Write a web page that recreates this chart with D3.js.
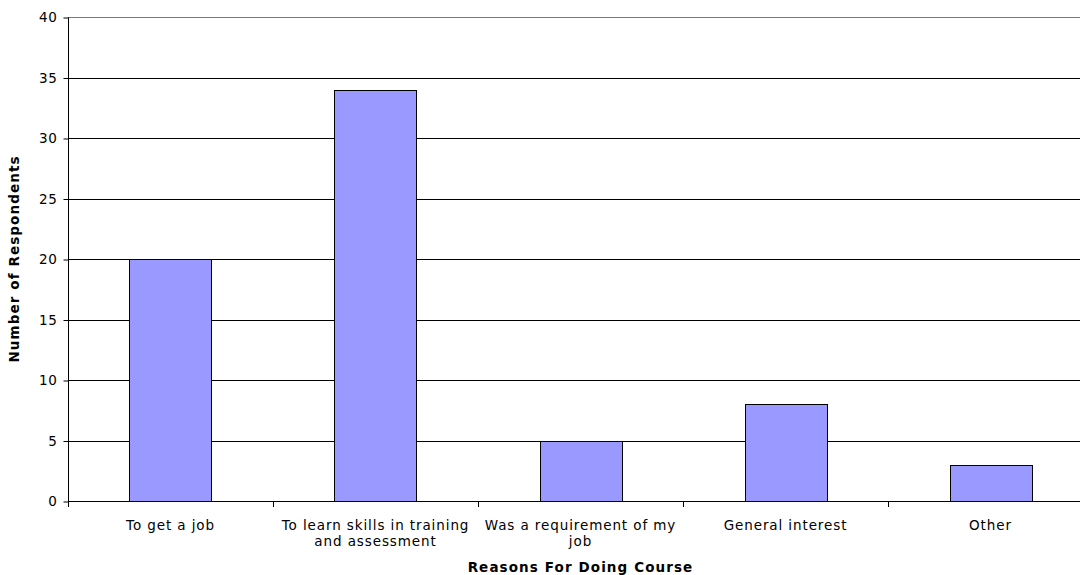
<!DOCTYPE html>
<html>
<head>
<meta charset="utf-8">
<script src="https://cdn.jsdelivr.net/npm/d3@7"></script>
<style>
  html, body { margin: 0; padding: 0; background: #fff; }
  svg { display: block; }
  text { font-family: "DejaVu Sans", Verdana, sans-serif; fill: #000; }
</style>
</head>
<body>
<svg id="chart" width="1080" height="575"></svg>
<script>
// Survey results: reasons respondents gave for doing the course
const categories = [
  ["To get a job"],
  ["To learn skills in training", "and assessment"],
  ["Was a requirement of my", "job"],
  ["General interest"],
  ["Other"]
];
const respondents = [20, 34, 5, 8, 3];
const yTicks = [0, 5, 10, 15, 20, 25, 30, 35, 40];

const svg = d3.select("#chart");
const margin = { left: 68, top: 17, bottom: 501, right: 1093 };

const keys = categories.map((c, i) => i);
const x = d3.scaleBand().domain(keys).range([margin.left, margin.right]).paddingInner(0.6).paddingOuter(0.3);
const xTick = d3.scaleBand().domain(keys).range([margin.left, margin.right]);
const y = d3.scaleLinear().domain([0, 40]).range([margin.bottom, margin.top]);

// horizontal gridlines
svg.append("g").selectAll("line").data(yTicks.filter(d => d > 0)).join("line")
  .attr("x1", margin.left).attr("x2", margin.right)
  .attr("y1", d => Math.round(y(d)) + 0.5).attr("y2", d => Math.round(y(d)) + 0.5)
  .attr("stroke", d => d === 40 ? "#777" : "#000").attr("stroke-width", 1);

// bars
svg.append("g").selectAll("rect").data(respondents).join("rect")
  .attr("x", (d, i) => Math.round(x(i)) + 0.5)
  .attr("y", d => Math.round(y(d)) + 0.5)
  .attr("width", Math.round(x.bandwidth()))
  .attr("height", d => Math.round(y(0)) - Math.round(y(d)))
  .attr("fill", "#9999FF").attr("stroke", "#000").attr("stroke-width", 1);

// y axis
const yAxis = d3.axisLeft(y).tickValues(yTicks).tickSize(5).tickPadding(6);
const gy = svg.append("g").attr("transform", `translate(${margin.left + 0.5},0.5)`).call(yAxis);
gy.select(".domain").attr("stroke", "#000").attr("d", `M-0,${margin.bottom + 5}V${margin.top}`);
gy.selectAll(".tick line").attr("stroke", "#000");
gy.selectAll(".tick text").attr("font-size", 13.5).attr("font-family", "DejaVu Sans, sans-serif")
  .attr("fill", "#000").attr("letter-spacing", 0.6);

// x axis baseline and category separators
const gx = svg.append("g");
gx.append("line").attr("x1", margin.left).attr("x2", margin.right)
  .attr("y1", Math.round(y(0)) + 0.5).attr("y2", Math.round(y(0)) + 0.5).attr("stroke", "#000");
gx.selectAll("line.sep").data(keys.concat([keys.length])).join("line").attr("class", "sep")
  .attr("x1", i => Math.round(i < keys.length ? xTick(i) : margin.right) + 0.5)
  .attr("x2", i => Math.round(i < keys.length ? xTick(i) : margin.right) + 0.5)
  .attr("y1", Math.round(y(0)) + 0.5).attr("y2", Math.round(y(0)) + 6)
  .attr("stroke", "#000");

// category labels
const labels = gx.selectAll("text.cat").data(categories).join("text").attr("class", "cat")
  .attr("text-anchor", "middle")
  .attr("font-size", 13.5)
  .attr("letter-spacing", 0.9)
  .attr("x", (d, i) => xTick(i) + xTick.bandwidth() / 2)
  .attr("y", 530);
labels.selectAll("tspan").data(d => d).join("tspan")
  .attr("x", function () { return d3.select(this.parentNode).attr("x"); })
  .attr("dy", (d, i) => i === 0 ? 0 : 15.5)
  .text(d => d);

// axis titles
svg.append("text").attr("text-anchor", "middle").attr("font-size", 13.5).attr("font-weight", "bold")
  .attr("letter-spacing", 1.1)
  .attr("x", (margin.left + margin.right) / 2).attr("y", 572)
  .text("Reasons For Doing Course");
svg.append("text").attr("text-anchor", "middle").attr("font-size", 13.5).attr("font-weight", "bold")
  .attr("letter-spacing", 1.1)
  .attr("transform", `translate(19,${(margin.top + margin.bottom) / 2}) rotate(-90)`)
  .text("Number of Respondents");
</script>
</body>
</html>
